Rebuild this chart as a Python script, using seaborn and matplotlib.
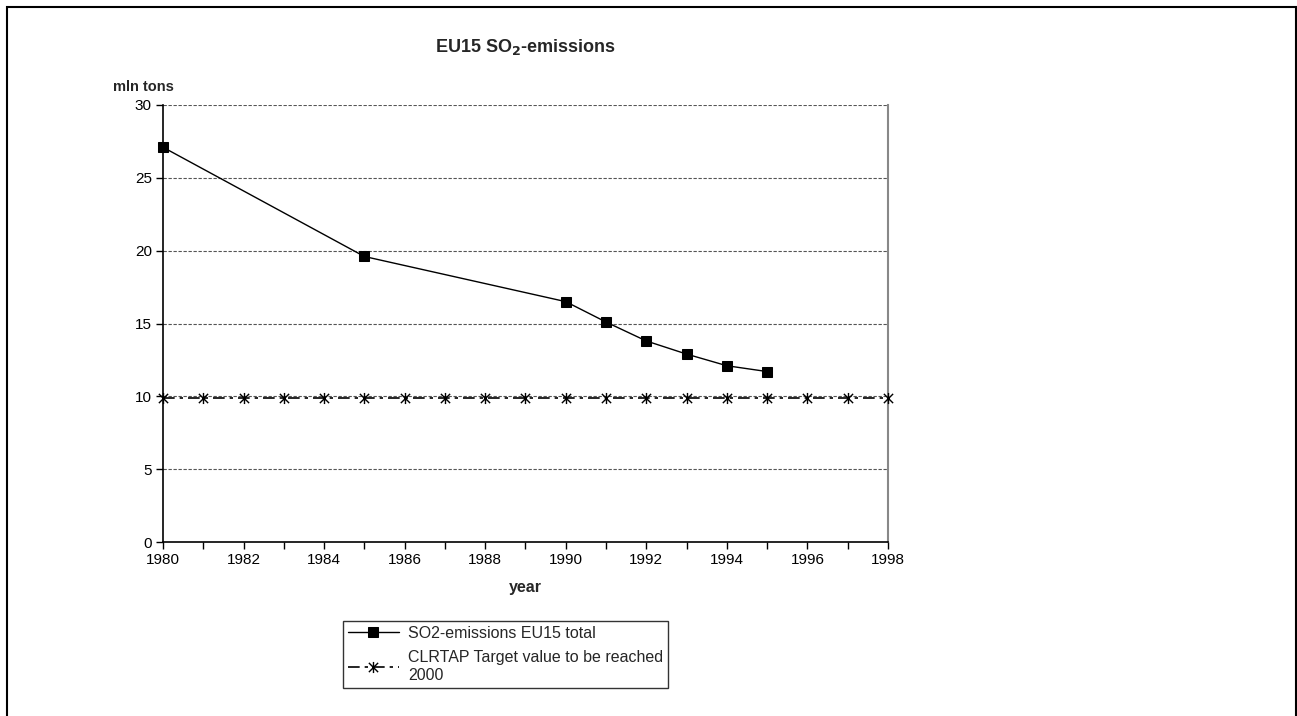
"""
EU15 SO2-emissions chart (rebuild of an old Excel figure).
"""

import matplotlib
matplotlib.use('Agg')
import matplotlib.pyplot as plt
from matplotlib.path import Path
from matplotlib.patches import Rectangle
import numpy as np
import pandas as pd
import seaborn as sns

# Данные
emission_years = [1980, 1985, 1990, 1991, 1992, 1993, 1994, 1995]
emission_values = [27.1, 19.6, 16.5, 15.1, 13.8, 12.9, 12.1, 11.7]
target_years = list(range(1980, 1999))
target_values = [9.9] * len(target_years)
emission_label = 'SO2-emissions EU15 total'
target_label = 'CLRTAP Target value to be reached\n2000'
x_tick_labels = [str(y) if y % 2 == 0 else '' for y in range(1980, 1999)]

sns.set_style('white')
plt.rcParams['font.family'] = ['Liberation Sans', 'DejaVu Sans']

df_em = pd.DataFrame({'year': emission_years, 'value': emission_values})
df_tg = pd.DataFrame({'year': target_years, 'value': target_values})

# маркер-звёздочка как в Excel: крест + вертикальная черта
star_path = Path(
    [(-1, -1), (1, 1), (-1, 1), (1, -1), (0, -1.2), (0, 1.2)],
    [Path.MOVETO, Path.LINETO, Path.MOVETO, Path.LINETO, Path.MOVETO, Path.LINETO],
)

fig = plt.figure(figsize=(12.97, 7.16), dpi=100)
ax = fig.add_axes([163 / 1297, 1 - 542 / 716, (888 - 163) / 1297, (542 - 105) / 716])

sns.lineplot(data=df_tg, x='year', y='value', ax=ax, color='black', linewidth=1.2,
             marker=star_path, markersize=8, markeredgewidth=1.0,
             markerfacecolor='none', markeredgecolor='black',
             dashes=False, label=target_label)
ax.lines[-1].set_dashes((7, 3, 2, 3))
sns.lineplot(data=df_em, x='year', y='value', ax=ax, color='black', linewidth=1.0,
             marker='s', markersize=7, markeredgecolor='black',
             markerfacecolor='black', label=emission_label)
for ln in ax.lines:
    ln.set_clip_on(False)
    ln.set_zorder(5)

ax.set_xlim(1980, 1998)
ax.set_ylim(0, 30)
ax.set_xticks(range(1980, 1999))
ax.set_xticklabels(x_tick_labels)
ax.set_yticks(range(0, 31, 5))
ax.tick_params(axis='both', direction='out', length=5, width=1, labelsize=11,
               bottom=True, left=True, colors='black', pad=3)

for y in range(5, 31, 5):
    ax.axhline(y, color='#555555', linestyle=(0, (3, 1.5)), linewidth=0.8, zorder=0)

ax.spines['top'].set_visible(False)
ax.spines['left'].set_color('black')
ax.spines['bottom'].set_color('black')
ax.spines['right'].set_color('#888888')
ax.spines['left'].set_linewidth(1.2)
ax.spines['bottom'].set_linewidth(1.2)
ax.spines['right'].set_linewidth(1.5)

ax.set_xlabel('year', fontsize=11.5, fontweight='bold', labelpad=9)
ax.set_ylabel('')
fig.text(143 / 1297, 1 - 87 / 716, 'mln tons', fontsize=10.5, fontweight='bold',
         ha='center', va='center')
fig.text(525 / 1297, 1 - 47 / 716, r'EU15 SO$_\mathbf{2}$-emissions', fontsize=13,
         fontweight='bold', ha='center', va='center')

# легенда: порядок как в оригинале
handles, labels = ax.get_legend_handles_labels()
order = [labels.index(emission_label), labels.index(target_label)]
leg = ax.legend([handles[i] for i in order], [labels[i] for i in order],
                loc='upper left', bbox_to_anchor=(343 / 1297, 1 - 621 / 716),
                bbox_transform=fig.transFigure, fontsize=11.5, frameon=True,
                fancybox=False, shadow=False, borderpad=0.3, handlelength=3.2,
                handletextpad=0.6, labelspacing=0.6, borderaxespad=0)
leg.get_frame().set_edgecolor('black')
leg.get_frame().set_linewidth(1.0)

# рамка всего рисунка
fig.patches.append(Rectangle((7 / 1297, -0.1), (1296 - 7) / 1297, 1.1 - 7 / 716,
                             transform=fig.transFigure, fill=False,
                             edgecolor='black', linewidth=1.5))

plt.savefig('out.png', dpi=100)
plt.close()
